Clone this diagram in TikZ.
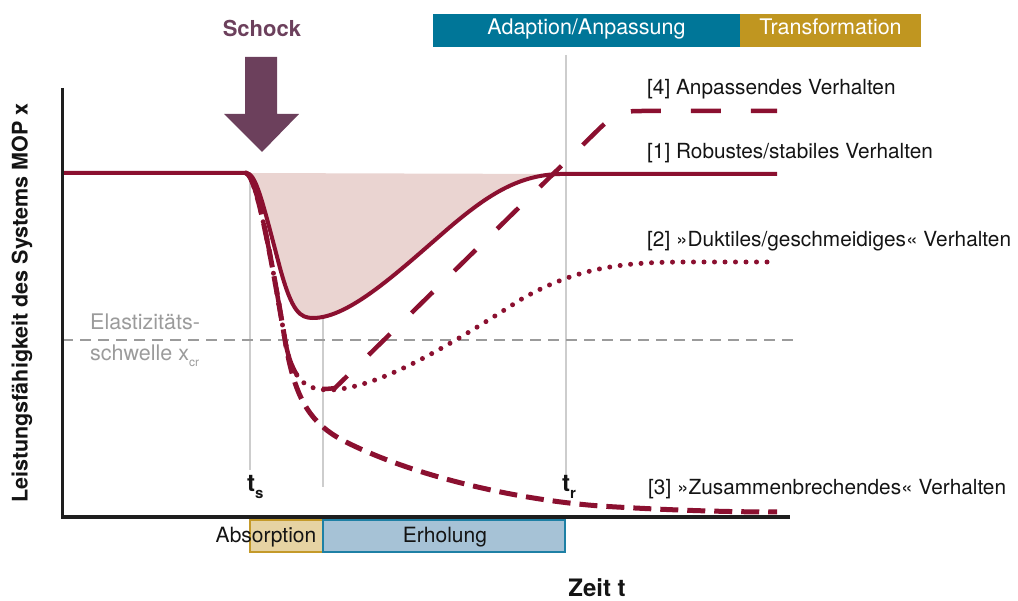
\documentclass[tikz,border=0pt]{standalone}
\usepackage{fontspec}
\setmainfont{TeX Gyre Heros}
\definecolor{curvered}{RGB}{139,16,48}
\definecolor{pinkfill}{RGB}{234,212,209}
\definecolor{shockcol}{RGB}{108,64,92}
\definecolor{adaptcol}{RGB}{0,118,152}
\definecolor{transcol}{RGB}{192,150,32}
\definecolor{absfill}{RGB}{230,211,163}
\definecolor{absdraw}{RGB}{196,154,42}
\definecolor{erhfill}{RGB}{166,194,214}
\definecolor{erhdraw}{RGB}{30,128,165}
\definecolor{graytext}{RGB}{155,155,155}
\definecolor{grayline}{RGB}{205,205,205}
\definecolor{axiscol}{RGB}{30,30,30}
\definecolor{labeltext}{RGB}{20,20,20}
\tikzset{
  robust/.style={draw=curvered, line width=4pt},
  adaptcurve/.style={draw=curvered, line width=4.5pt, dash pattern=on 30pt off 30pt},
  collapsecurve/.style={draw=curvered, line width=5pt, dash pattern=on 18pt off 9pt},
  ductilecurve/.style={draw=curvered, line width=5pt, line cap=round, dash pattern=on 0pt off 10.5pt},
  guide/.style={draw=grayline, line width=1.2pt},
  threshold/.style={draw=graytext, line width=2.5pt, dash pattern=on 11pt off 7pt},
  axisline/.style={draw=axiscol, line width=3pt},
  lbl/.style={font=\fontsize{20.8}{24}\selectfont, text=labeltext, inner sep=0pt, anchor=base west},
  boxtext/.style={font=\fontsize{21.5}{24}\selectfont, inner sep=0pt, text height=0.72em, text depth=0pt},
  tlabel/.style={font=\fontsize{24}{28}\selectfont\bfseries, text=labeltext, inner sep=0pt, anchor=base west},
}
\begin{document}
\begin{tikzpicture}[x=1pt,y=-1pt]
\useasboundingbox (0,0) rectangle (1018,601);

% area under robust curve
\fill[pinkfill] (246,173) .. controls (256,173) and (262,200) .. (280,268)
  .. controls (292,312) and (300,318) .. (313,318)
  .. controls (350,318) and (400,270) .. (450,227)
  .. controls (490,193) and (520,175) .. (560,174) -- cycle;

% guide lines
\coordinate (ts1) at (250,175); \coordinate (ts2) at (250,470);
\coordinate (tm1) at (323,318); \coordinate (tm2) at (323,487);
\coordinate (tr1) at (566,55);  \coordinate (tr2) at (566,478);
\draw[guide] (ts1) -- (ts2);
\draw[guide] (tm1) -- (tm2);
\draw[guide] (tr1) -- (tr2);

% threshold
\coordinate (th1) at (62,340); \coordinate (th2) at (800,340);
\draw[threshold] (th1) -- (th2);
\node[font=\fontsize{21.5}{24}\selectfont, text=graytext, inner sep=0pt, anchor=base west] (elast) at (90,330) {Elastizitäts-};
\node[font=\fontsize{21.5}{24}\selectfont, text=graytext, inner sep=0pt, anchor=base west] (schw) at (90,361) {schwelle x\raisebox{-6pt}{\fontsize{12}{12}\selectfont cr}};

% [3] collapse
\draw[collapsecurve] (246,173) .. controls (256,175) and (270,250) .. (285,340)
  .. controls (295,400) and (310,425) .. (350,444)
  .. controls (420,478) and (520,500) .. (600,506)
  .. controls (680,511) and (740,512) .. (777,512);

% [2] ductile
\draw[ductilecurve] (246,173) .. controls (256,175) and (270,250) .. (285,340)
  .. controls (292,380) and (305,390) .. (330,390)
  .. controls (380,388) and (450,345) .. (520,300)
  .. controls (580,265) and (630,262) .. (690,262) -- (777,262);

% [4] adaptive
\draw[adaptcurve] (246,173) .. controls (256,175) and (270,250) .. (285,340)
  .. controls (293,385) and (310,392) .. (335,388)
  -- (600,128) .. controls (618,111) and (625,111) .. (645,111) -- (777,111);

% [1] robust
\draw[robust] (62,173) -- (246,173) .. controls (256,173) and (262,200) .. (280,268)
  .. controls (292,312) and (300,318) .. (313,318)
  .. controls (350,318) and (400,270) .. (450,227)
  .. controls (490,193) and (520,175) .. (560,174) -- (777,174);

% axes
\coordinate (ytop) at (62,88); \coordinate (origin) at (62,517); \coordinate (xend) at (790,517);
\draw[axisline] (ytop) -- (origin) -- (xend);
\node[rotate=90, font=\fontsize{21.5}{24}\selectfont\bfseries, text=labeltext, inner sep=0pt] (ylab) at (22,303) {Leistungsfähigkeit des Systems MOP x};
\node[font=\fontsize{24}{28}\selectfont\bfseries, text=labeltext, inner sep=0pt, anchor=base] (xlab) at (597,596) {Zeit t};

% time labels
\node[tlabel] (tslab) at (247,492) {t\raisebox{-7pt}{\fontsize{15}{15}\selectfont s}};
\node[tlabel] (trlab) at (562,492) {t\raisebox{-7pt}{\fontsize{15}{15}\selectfont r}};

% curve labels
\node[lbl] (l4) at (647,95) {[4] Anpassendes Verhalten};
\node[lbl] (l1) at (647,159) {[1] Robustes/stabiles Verhalten};
\node[lbl] (l2) at (647,247) {[2] »Duktiles/geschmeidiges« Verhalten};
\node[lbl] (l3) at (648,495) {[3] »Zusammenbrechendes« Verhalten};

% shock arrow
\fill[shockcol] (245,57) -- (277,57) -- (277,114) -- (299,114) -- (262,152) -- (224,114) -- (245,114) -- cycle;
\node[font=\fontsize{22}{26}\selectfont\bfseries, text=shockcol, inner sep=0pt] (schock) at (262,28) {Schock};

% top phase boxes
\fill[adaptcol] (433,14) rectangle (740,47);
\fill[transcol] (740,14) rectangle (921,47);
\node[boxtext, text=white] (adapt) at (586.5,30.5) {Adaption/Anpassung};
\node[boxtext, text=white] (trans) at (830.5,30.5) {Transformation};

% bottom phase boxes
\draw[fill=absfill, draw=absdraw, line width=2.8pt] (250,520) rectangle (323,552);
\draw[fill=erhfill, draw=erhdraw, line width=2.8pt] (323,520) rectangle (565,552);
\node[font=\fontsize{21}{24}\selectfont, text=labeltext, inner sep=0pt, anchor=base] (abs) at (266,543) {Absorption};
\node[font=\fontsize{21}{24}\selectfont, text=labeltext, inner sep=0pt, anchor=base] (erh) at (445,542) {Erholung};
\end{tikzpicture}
\end{document}
